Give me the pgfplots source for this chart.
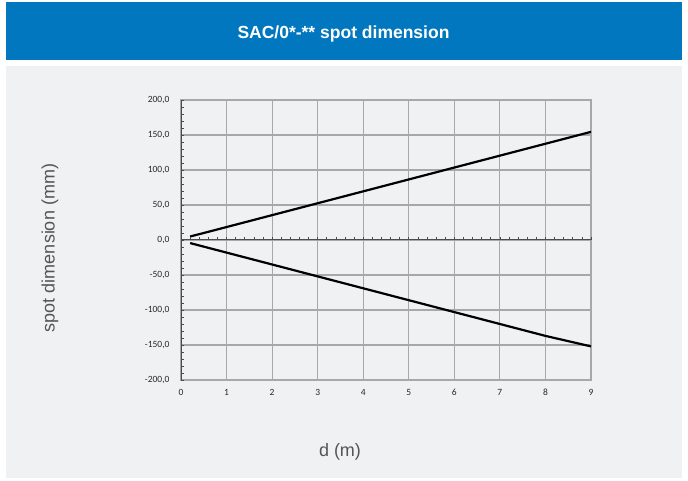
\documentclass[border=0pt]{standalone}
\usepackage{pgfplots}
\pgfplotsset{compat=1.18}
\usepackage{fontspec}
\setmainfont{Liberation Sans}
\newfontfamily\tickfont{Carlito}
\definecolor{banner}{RGB}{0,119,190}
\definecolor{panel}{RGB}{240,241,243}
\definecolor{gridc}{RGB}{168,168,168}
\definecolor{labc}{RGB}{85,85,85}
\definecolor{tickc}{RGB}{40,40,40}
\begin{document}
\begin{tikzpicture}[x=1pt,y=1pt]
\useasboundingbox (0,0) rectangle (688,481);
\fill[white] (0,0) rectangle (688,481);
\fill[banner] (6,421) rectangle (682,479);
\fill[panel] (6,3) rectangle (682,415);
\node[white,font=\bfseries\fontsize{17.5}{20}\selectfont] at (343.5,447) {SAC/0*-** spot dimension};
\begin{axis}[
  at={(181pt,101pt)}, anchor=south west,
  scale only axis, width=410pt, height=280pt,
  xmin=0, xmax=9, ymin=-200, ymax=200,
  xtick={0,...,9}, ytick={-200,-150,...,200},
  grid=major, major grid style={gridc, line width=1.2pt},
  axis line style={gridc, line width=1.2pt},
  major tick length=0pt,
  /pgf/number format/assume math mode=true,
  /pgf/number format/.cd, fixed, fixed zerofill, precision=1, use comma, 1000 sep={},
  /pgfplots/.cd,
  xticklabel={\pgfmathprintnumber[fixed,precision=0,fixed zerofill=false]{\tick}},
  ticklabel style={font=\tickfont\fontsize{9.5}{10}\selectfont, text=tickc},
  xticklabel style={anchor=base, yshift=-16pt},
  yticklabel style={xshift=-8pt},
]
\addplot[black, line width=2.2pt] coordinates {(0.2,5) (0.5,10) (1,18.5) (2,35.5) (3,52.5) (4,69.5) (5,86.5) (6,103.5) (7,120.5) (8,137.5) (9,154.5)};
\addplot[black, line width=2.2pt] coordinates {(0.2,-4.4) (0.5,-9.5) (1,-18) (2,-35) (3,-52) (4,-69) (5,-86) (6,-103) (7,-120) (8,-137) (9,-152)};
\end{axis}
\begin{axis}[
  at={(181pt,101pt)}, anchor=south west,
  scale only axis, width=410pt, height=280pt,
  xmin=0, xmax=9, ymin=-200, ymax=200,
  axis x line=middle, axis y line=left,
  axis line style={-, black!70, line width=1pt},
  xtick={0,...,9}, ytick={-200,-150,...,200},
  minor x tick num=4, minor y tick num=4,
  xticklabels={}, yticklabels={},
  tick align=inside,
  major tick length=3pt, minor tick length=3pt,
  tick style={black!70, line width=0.6pt},
]
\end{axis}
\node[labc, rotate=90, font=\fontsize{18}{20}\selectfont] at (50,233) {spot dimension (mm)};
\node[labc, font=\fontsize{18}{20}\selectfont] at (340,29) {d (m)};
\end{tikzpicture}
\end{document}
